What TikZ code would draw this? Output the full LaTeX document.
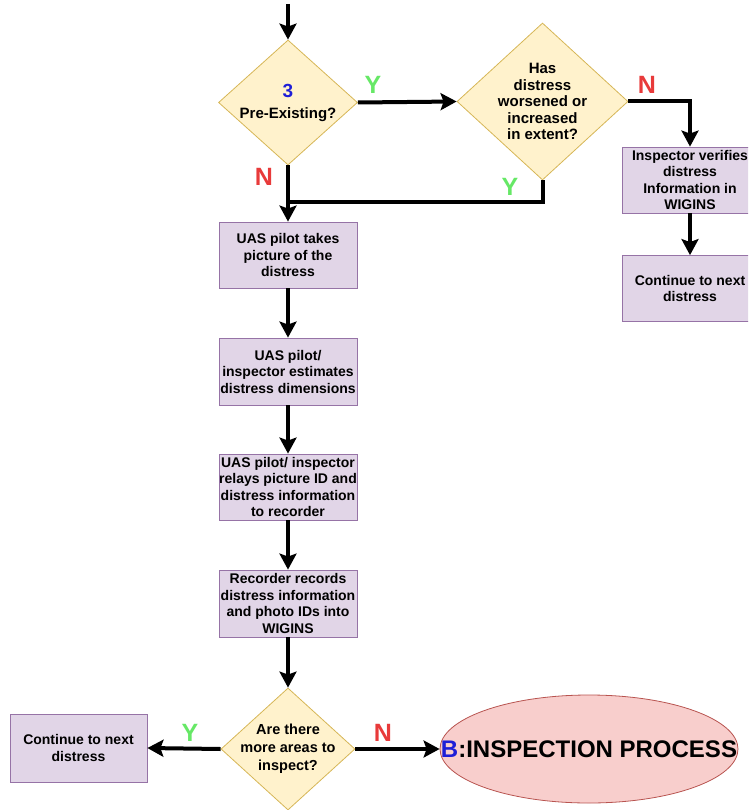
\documentclass[tikz,border=0pt]{standalone}
\usepackage{fontspec}
\setmainfont{Liberation Sans}
\usetikzlibrary{shapes.geometric,arrows.meta}

\definecolor{decfill}{HTML}{FFF2CC}
\definecolor{decline}{HTML}{D6B656}
\definecolor{stepfill}{HTML}{E1D5E7}
\definecolor{stepline}{HTML}{9673A6}
\definecolor{endfill}{HTML}{F8CECC}
\definecolor{endline}{HTML}{B85450}
\definecolor{yescol}{RGB}{102,232,102}
\definecolor{nocol}{RGB}{232,58,58}
\definecolor{numcol}{RGB}{30,30,215}

\tikzset{
  txt/.style={font=\fontsize{14}{16.5}\selectfont\bfseries, align=center},
  dectxt/.style={font=\fontsize{15}{16.5}\selectfont\bfseries, align=center},
  decision/.style={diamond, draw=decline, fill=decfill, line width=0.8pt, inner sep=0pt},
  stepbox/.style={rectangle, draw=stepline, fill=stepfill, line width=0.8pt, inner sep=0pt,
                  minimum width=138pt, minimum height=66pt, txt},
  terminal/.style={ellipse, draw=endline, fill=endfill, line width=0.8pt, inner sep=0pt},
  flow/.style={line width=4pt, -{Stealth[length=16pt,width=17pt,inset=3pt]}},
  plain/.style={line width=4pt},
  yeslbl/.style={text=yescol, font=\fontsize{25}{25}\selectfont\bfseries},
  nolbl/.style={text=nocol, font=\fontsize{25}{25}\selectfont\bfseries},
}

\begin{document}
\begin{tikzpicture}[x=1pt, y=-1pt]
  \useasboundingbox (0,0) rectangle (748,810);
  \clip (0,0) rectangle (748,810);

  % decisions
  \node[decision, minimum width=139pt, minimum height=125pt,
        label={[dectxt, font=\fontsize{15}{21}\selectfont\bfseries]center:{{\color{numcol}\fontsize{19}{21}\selectfont 3}\\Pre-Existing?}}] (d1) at (288,102.5) {};
  \node[decision, minimum width=171pt, minimum height=157pt,
        label={[dectxt]center:{Has\\distress\\worsened or\\increased\\in extent?}}] (d2) at (542.5,101.5) {};
  \node[decision, minimum width=134pt, minimum height=122pt,
        label={[dectxt, font=\fontsize{14.5}{18}\selectfont\bfseries]center:{Are there\\more areas to\\inspect?}}] (d3) at (288,749) {};

  % process steps
  \node[stepbox] (b1) at (288,255) {UAS pilot takes\\picture of the\\distress};
  \node[stepbox, minimum height=67pt] (b2) at (288,371.5) {UAS pilot/\\inspector estimates\\distress dimensions};
  \node[stepbox] (b3) at (288,487) {UAS pilot/ inspector\\relays picture ID and\\distress information\\to recorder};
  \node[stepbox, minimum height=67pt] (b4) at (288,603.5) {Recorder records\\distress information\\and photo IDs into\\WIGINS};
  \node[stepbox, minimum width=136pt] (r1) at (690,180) {Inspector verifies\\distress\\Information in\\WIGINS};
  \node[stepbox, minimum width=136pt] (r2) at (690,288.5) {Continue to next\\distress};
  \node[stepbox, minimum width=137pt, minimum height=68pt] (l1) at (78.5,748) {Continue to next\\distress};

  % end of this part
  \node[terminal, minimum width=298pt, minimum height=108pt,
        label={[font=\fontsize{24}{24}\selectfont\bfseries]center:{\textcolor{numcol}{B}:INSPECTION PROCESS}}] (e1) at (589,749) {};

  % connectors
  \coordinate (in) at (288,4);
  \coordinate (join) at (288,202);
  \draw[flow] (in) -- (d1.north);
  \draw[flow] (d1.east) -- (d2.west);
  \draw[plain] (d2.south) |- (join);
  \draw[flow] (d1.south) -- (b1.north);
  \draw[flow] (d2.east) -| (r1.north);
  \draw[flow] (r1.south) -- (r2.north);
  \draw[flow] (b1.south) -- (b2.north);
  \draw[flow] (b2.south) -- (b3.north);
  \draw[flow] (b3.south) -- (b4.north);
  \draw[flow] (b4.south) -- (d3.north);
  \draw[flow] (d3.west) -- (l1.east);
  \draw[flow] (d3.east) -- (e1.west);

  % branch labels
  \node[yeslbl] (y1) at (373,85) {Y};
  \node[nolbl]  (n1) at (264,177) {N};
  \node[yeslbl] (y2) at (510,187) {Y};
  \node[nolbl]  (n2) at (647,85) {N};
  \node[yeslbl] (y3) at (190,733) {Y};
  \node[nolbl]  (n3) at (383,733) {N};
\end{tikzpicture}
\end{document}
